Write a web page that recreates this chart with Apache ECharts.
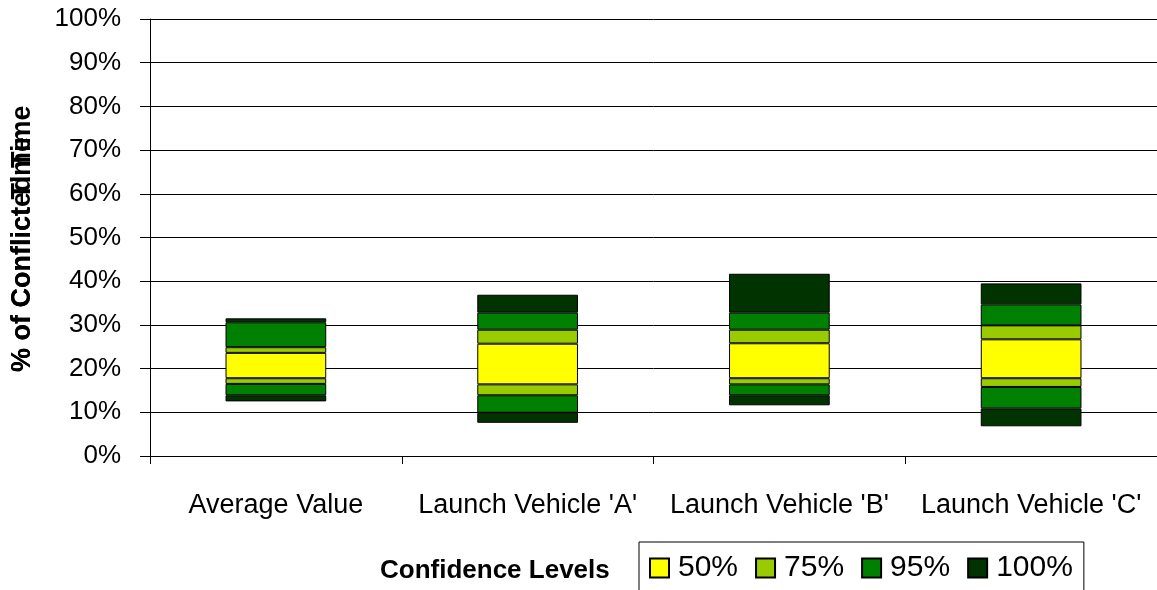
<!DOCTYPE html>
<html>
<head>
<meta charset="utf-8">
<style>
  html, body { margin: 0; padding: 0; background: #fff; }
  #chart { width: 1157px; height: 590px; }
</style>
<script src="https://cdn.jsdelivr.net/npm/echarts@6/dist/echarts.min.js"></script>
</head>
<body>
<div id="chart"></div>
<script>
// Categories on the x axis
const categories = ["Average Value", "Launch Vehicle 'A'", "Launch Vehicle 'B'", "Launch Vehicle 'C'"];

// Band edges (% of time) for each confidence level, lower and upper
const low100  = [12.5,  7.6, 11.6,  6.8];
const low95   = [13.9,  9.9, 13.9, 10.9];
const low75   = [16.5, 13.9, 16.4, 15.8];
const low50   = [17.8, 16.4, 17.8, 17.8];
const high50  = [23.6, 25.7, 25.8, 26.7];
const high75  = [24.9, 28.9, 28.9, 29.9];
const high95  = [30.6, 32.8, 32.8, 34.7];
const high100 = [31.5, 36.9, 41.7, 39.5];

// Axis ticks
const yTicks = { min: 0, max: 100, interval: 10 };

const levelNames = ['50%', '75%', '95%', '100%'];
const levelColors = { '50%': '#FFFF00', '75%': '#99CC00', '95%': '#008000', '100%': '#003300' };

const FONT = '"Liberation Sans", Arial, sans-serif';

function diff(a, b) { return a.map((v, i) => +(v - b[i]).toFixed(2)); }

function seg(name, top, bottom) {
  return {
    name: name,
    type: 'bar',
    stack: 'band',
    barWidth: '40%',
    data: diff(top, bottom),
    itemStyle: { color: levelColors[name], borderColor: '#000', borderWidth: 1 }
  };
}

const series = [
  {
    name: 'base',
    type: 'bar',
    stack: 'band',
    barWidth: '40%',
    silent: true,
    data: low100.slice(),
    itemStyle: { color: 'rgba(0,0,0,0)', borderWidth: 0 }
  },
  seg('100%', low95, low100),
  seg('95%', low75, low95),
  seg('75%', low50, low75),
  seg('50%', high50, low50),
  seg('75%', high75, high50),
  seg('95%', high95, high75),
  seg('100%', high100, high95)
];

const chart = echarts.init(document.getElementById('chart'), null, { renderer: 'canvas' });

chart.setOption({
  animation: false,
  backgroundColor: '#fff',
  grid: { left: 150, top: 19, width: 1013, height: 437, containLabel: false },
  xAxis: {
    type: 'category',
    data: categories,
    boundaryGap: true,
    axisLine: { lineStyle: { color: '#000', width: 1 } },
    axisTick: { show: true, alignWithLabel: false, length: 8, lineStyle: { color: '#000' } },
    axisLabel: { color: '#000', fontSize: 27, fontFamily: FONT, margin: 36, interval: 0 }
  },
  yAxis: {
    type: 'value',
    min: yTicks.min,
    max: yTicks.max,
    interval: yTicks.interval,
    axisLine: { show: true, lineStyle: { color: '#000', width: 1 } },
    axisTick: { show: true, length: 10, lineStyle: { color: '#000' } },
    axisLabel: { color: '#000', fontSize: 26, fontFamily: FONT, margin: 29, formatter: '{value}%' },
    splitLine: { show: true, lineStyle: { color: '#000', width: 1 } }
  },
  legend: {
    data: levelNames,
    left: 639,
    top: 542,
    orient: 'horizontal',
    borderColor: '#000',
    borderWidth: 1,
    padding: [11, 11, 14, 10],
    itemWidth: 19,
    itemHeight: 19,
    itemGap: 17,
    icon: 'rect',
    selectedMode: false,
    textStyle: { color: '#000', fontSize: 30, fontFamily: FONT, padding: [0, 0, 0, 4] }
  },
  graphic: [
    {
      type: 'text',
      x: 23, y: 372,
      rotation: Math.PI / 2,
      style: {
        text: '% of Conflicted Time',
        font: 'bold 27px ' + FONT,
        fill: '#000',
        align: 'left', verticalAlign: 'middle',
        textAlign: 'left', textVerticalAlign: 'middle'
      }
    },
    {
      type: 'text',
      x: 23, y: 372,
      rotation: Math.PI / 2,
      style: {
        text: '% of Conflict Time',
        font: 'bold 27px ' + FONT,
        fill: '#000',
        align: 'left', verticalAlign: 'middle',
        textAlign: 'left', textVerticalAlign: 'middle'
      }
    },
    {
      type: 'text',
      x: 380, y: 571,
      style: {
        text: 'Confidence Levels',
        font: 'bold 26px ' + FONT,
        fill: '#000',
        align: 'left', verticalAlign: 'middle',
        textAlign: 'left', textVerticalAlign: 'middle'
      }
    }
  ],
  series: series
});
</script>
</body>
</html>
